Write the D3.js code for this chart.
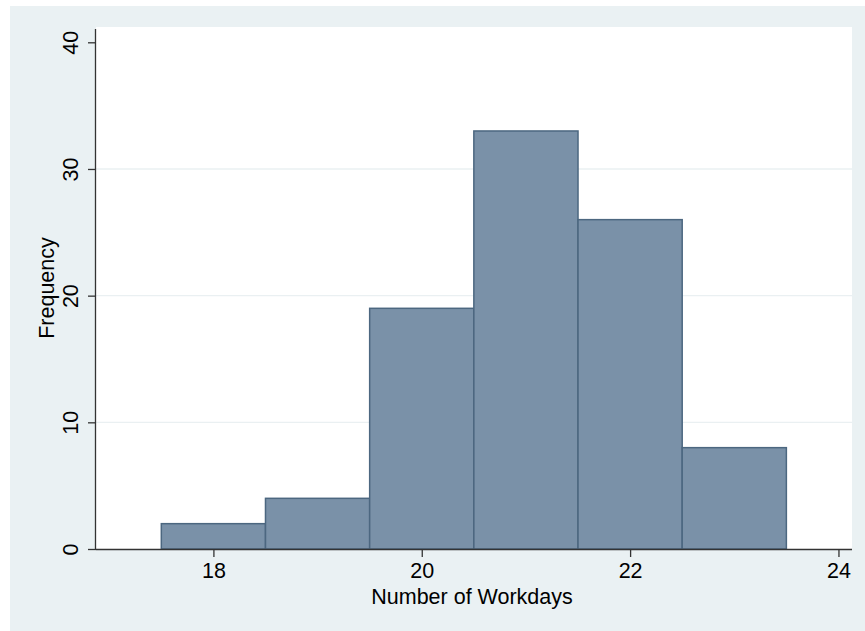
<!DOCTYPE html>
<html>
<head>
<meta charset="utf-8">
<script src="https://cdn.jsdelivr.net/npm/d3@7"></script>
<style>
  html, body { margin: 0; padding: 0; background: #ffffff; }
  svg { display: block; font-family: "Liberation Sans", Arial, Helvetica, sans-serif; }
</style>
</head>
<body>
<svg id="chart" width="865" height="631"></svg>
<script>
// Histogram of workdays: bin edges and counts
const binStarts = [17.5, 18.5, 19.5, 20.5, 21.5, 22.5];
const binWidth = 1;
const counts = [2, 4, 19, 33, 26, 8];
const xTicks = [18, 20, 22, 24];
const yTicks = [0, 10, 20, 30, 40];
const gridValues = [10, 20, 30];
const xTitle = "Number of Workdays";
const yTitle = "Frequency";

const svg = d3.select("#chart");

// outer graph region
svg.append("rect")
  .attr("x", 10).attr("y", 6)
  .attr("width", 855).attr("height", 625)
  .attr("fill", "#eaf1f3");

// plot region
const plot = { left: 96, right: 852, top: 27, bottom: 549 };
svg.append("rect")
  .attr("x", plot.left).attr("y", plot.top)
  .attr("width", plot.right - plot.left).attr("height", plot.bottom - plot.top)
  .attr("fill", "#ffffff");

const x = d3.scaleLinear().domain([16.873, 24.13]).range([plot.left, plot.right]);
const y = d3.scaleLinear().domain([0, 40]).range([549, 42.3]);

// gridlines
svg.append("g").selectAll("line").data(gridValues).join("line")
  .attr("x1", plot.left).attr("x2", plot.right)
  .attr("y1", d => y(d)).attr("y2", d => y(d))
  .attr("stroke", "#eaf0f2").attr("stroke-width", 1.3);

// bars
svg.append("g").selectAll("rect").data(counts).join("rect")
  .attr("x", (d, i) => x(binStarts[i]))
  .attr("y", d => y(d))
  .attr("width", (d, i) => x(binStarts[i] + binWidth) - x(binStarts[i]))
  .attr("height", d => y(0) - y(d))
  .attr("fill", "#7a91a8")
  .attr("stroke", "#4c6780")
  .attr("stroke-width", 1.5);

const fontSize = 21.5;

// x axis
const xAxis = svg.append("g")
  .attr("transform", `translate(0,${plot.bottom})`)
  .call(d3.axisBottom(x).tickValues(xTicks).tickFormat(d3.format("d")).tickSize(8).tickPadding(6).tickSizeOuter(0));
xAxis.select(".domain").attr("d", `M${plot.left},0.5H${plot.right}`).attr("stroke", "#333").attr("stroke-width", 1.3);
xAxis.selectAll(".tick line").attr("stroke", "#333").attr("stroke-width", 1.3);
xAxis.selectAll(".tick text")
  .attr("font-size", fontSize).attr("fill", "#000")
  .attr("font-family", "'Liberation Sans', Arial, sans-serif");

// y axis
const yAxis = svg.append("g")
  .attr("transform", `translate(${plot.left},0)`)
  .call(d3.axisLeft(y).tickValues(yTicks).tickSize(8).tickSizeOuter(0));
yAxis.select(".domain").attr("d", `M-0.5,${plot.bottom}V29`).attr("stroke", "#333").attr("stroke-width", 1.3);
yAxis.selectAll(".tick line").attr("stroke", "#333").attr("stroke-width", 1.3);
yAxis.selectAll(".tick text")
  .attr("font-size", fontSize).attr("fill", "#000")
  .attr("font-family", "'Liberation Sans', Arial, sans-serif")
  .attr("x", 0).attr("dy", null)
  .attr("text-anchor", "middle")
  .attr("transform", "translate(-25,0) rotate(-90)")
  .attr("dominant-baseline", "central");

// axis titles
svg.append("text")
  .attr("x", (plot.left + plot.right) / 2 - 2).attr("y", 604)
  .attr("text-anchor", "middle")
  .attr("font-size", fontSize).attr("fill", "#000")
  .text(xTitle);

svg.append("text")
  .attr("transform", `translate(54,${(plot.top + plot.bottom) / 2}) rotate(-90)`)
  .attr("text-anchor", "middle")
  .attr("font-size", fontSize).attr("fill", "#000")
  .text(yTitle);
</script>
</body>
</html>
